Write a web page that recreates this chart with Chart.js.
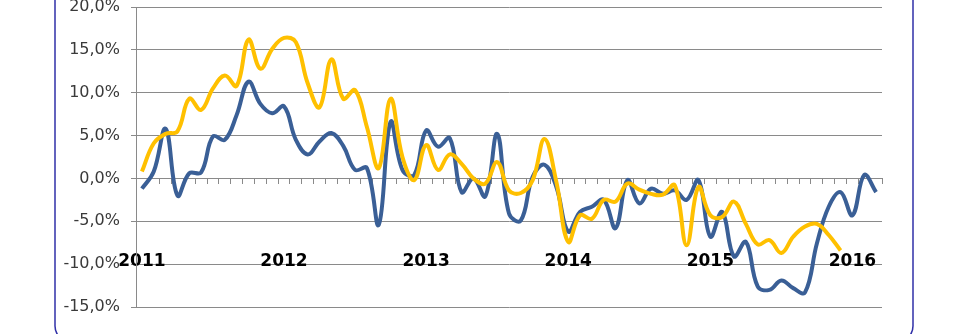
<!DOCTYPE html>
<html>
<head>
<meta charset="utf-8">
<script src="https://cdn.jsdelivr.net/npm/chart.js@4"></script>
<style>
  html, body { margin: 0; padding: 0; background: #ffffff; }
  #wrap { width: 972px; height: 334px; position: relative; }
</style>
</head>
<body>
<div id="wrap"><canvas id="c" width="972" height="334"></canvas></div>
<script>
// Monthly categories Jan 2011 .. Mar 2016
const years = [2011, 2012, 2013, 2014, 2015, 2016];
const months = [];
years.forEach(y => { for (let m = 1; m <= 12; m++) { if (y === 2016 && m > 3) break; months.push(y + '-' + String(m).padStart(2, '0')); } });

// Series values (%)
const blueSeries = [
  -1.2, 0.8, 5.8, -2.0, 0.6, 0.7, 4.9, 4.5, 7.4, 11.3, 8.7, 7.6,
  8.4, 4.5, 2.8, 4.3, 5.3, 3.8, 1.0, 1.2, -5.4, 6.6, 1.0, 0.4,
  5.6, 3.7, 4.7, -1.6, 0.0, -2.1, 5.2, -4.1, -4.9, 0.2, 1.6, -1.0,
  -6.2, -3.9, -3.3, -2.5, -5.8, -0.2, -2.9, -1.2, -1.8, -1.4, -2.5, -0.2,
  -6.8, -3.9, -9.1, -7.4, -12.6, -13.0, -11.9, -12.8, -13.3, -7.6, -3.3, -1.6,
  -4.3, 0.4, -1.6
];
const yellowSeries = [
  0.8, 4.1, 5.2, 5.5, 9.3, 8.0, 10.5, 12.0, 10.8, 16.2, 12.8, 15.1,
  16.4, 15.9, 11.1, 8.3, 13.9, 9.3, 10.3, 6.0, 1.2, 9.3, 2.5, -0.2,
  3.9, 1.0, 2.8, 1.7, 0.0, -0.6, 1.9, -1.4, -1.7, -0.2, 4.6, -0.4,
  -7.4, -4.3, -4.7, -2.5, -2.7, -0.6, -1.3, -1.8, -1.9, -0.8, -7.8, -1.0,
  -4.3, -4.5, -2.7, -5.3, -7.7, -7.2, -8.7, -6.8, -5.6, -5.3, -6.6, -8.4
];
const yTicks = [-15, -10, -5, 0, 5, 10, 15, 20];

const GRID = '#8a8a8a';

const framePlugin = {
  id: 'frame',
  afterDraw(chart) {
    const ctx = chart.ctx;
    ctx.save();
    ctx.strokeStyle = '#3030a8';
    ctx.lineWidth = 1.5;
    ctx.beginPath();
    ctx.roundRect(55, -30, 858, 372, 16);
    ctx.stroke();
    ctx.restore();
  }
};

new Chart(document.getElementById('c'), {
  type: 'line',
  data: {
    labels: months,
    datasets: [
      { label: 'B', data: yellowSeries, borderColor: '#ffc000', borderWidth: 4, pointRadius: 0, tension: 0.4, fill: false },
      { label: 'A', data: blueSeries, borderColor: '#3a5f96', borderWidth: 4, pointRadius: 0, tension: 0.4, fill: false }
    ]
  },
  options: {
    responsive: false,
    animation: false,
    events: [],
    layout: { padding: { left: 0, right: 90, top: 7, bottom: 27 } },
    plugins: { legend: { display: false }, tooltip: { enabled: false } },
    scales: {
      x: {
        type: 'category',
        offset: true,
        position: { y: 0 },
        afterFit(s) { s.height = 0; },
        grid: { offset: true, drawOnChartArea: false, drawTicks: true, tickLength: 5, color: GRID, lineWidth: 1 },
        border: { display: true, color: GRID, width: 1 },
        ticks: {
          autoSkip: false, maxRotation: 0, minRotation: 0, padding: 68,
          color: '#000000',
          font: { family: 'DejaVu Sans', size: 17, weight: 'bold' },
          callback: (v, i) => (i % 12 === 0 ? months[i].slice(0, 4) : '')
        }
      },
      y: {
        min: -15, max: 20,
        afterFit(s) { s.width = 136; s.paddingTop = 0; s.paddingBottom = 0; },
        afterBuildTicks(s) { s.ticks = yTicks.map(v => ({ value: v })); },
        grid: { color: GRID, lineWidth: 1, drawTicks: true, tickLength: 5 },
        border: { display: true, color: GRID, width: 1 },
        ticks: {
          padding: 11,
          color: '#3a3a3a',
          font: { family: 'DejaVu Sans', size: 16 },
          callback: v => v.toFixed(1).replace('.', ',') + '%'
        }
      }
    }
  },
  plugins: [framePlugin]
});
</script>
</body>
</html>
